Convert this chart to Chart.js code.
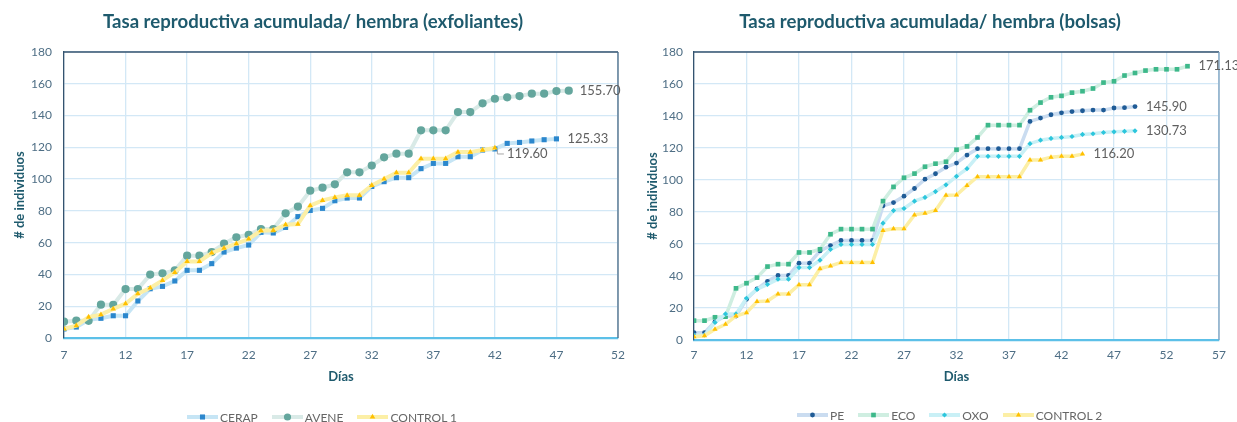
<!DOCTYPE html>
<html>
<head>
<meta charset="utf-8">
<script src="https://cdn.jsdelivr.net/npm/chart.js@4.4.1/dist/chart.umd.min.js"></script>
<style>
html, body { margin: 0; padding: 0; background: #fff; }
#wrap { position: relative; width: 1237px; height: 422px; overflow: hidden; font-family: Lato, "Open Sans", sans-serif; }
.box { position: absolute; top: 0; height: 422px; }
.legend { position: absolute; display: flex; align-items: center; font-size: 12px; color: #666; white-space: nowrap; height: 14px; }
.legend .item { display: flex; align-items: center; margin-right: 14px; }
.legend canvas { margin-right: 2px; }
</style>
</head>
<body>
<div id="wrap">
  <div class="box" style="left:0;width:630px"><canvas id="exf"></canvas></div>
  <div class="box" style="left:630px;width:607px"><canvas id="bol"></canvas></div>
  <div class="legend" id="legExf" style="left:187px;top:410px"></div>
  <div class="legend" id="legBol" style="left:797px;top:408px"></div>
</div>
<script>
// dias de cada grafico
const diasExf = [7, 8, 9, 10, 11, 12, 13, 14, 15, 16, 17, 18, 19, 20, 21, 22, 23, 24, 25, 26, 27,
  28, 29, 30, 31, 32, 33, 34, 35, 36, 37, 38, 39, 40, 41, 42, 43, 44, 45, 46, 47, 48];
const diasBol = [7, 8, 9, 10, 11, 12, 13, 14, 15, 16, 17, 18, 19, 20, 21, 22, 23, 24, 25, 26, 27,
  28, 29, 30, 31, 32, 33, 34, 35, 36, 37, 38, 39, 40, 41, 42, 43, 44, 45, 46, 47, 48, 49, 50,
  51, 52, 53, 54];

// exfoliantes
const cerap = [5.7, 6.9, 11.5, 12.4, 14.0, 14.0, 23.3, 31.0, 32.5, 35.9, 42.6, 42.6, 46.8, 54.1,
  56.6, 58.5, 66.5, 66.1, 69.6, 76.4, 80.3, 81.6, 86.4, 88.1, 88.1, 95.4, 98.4, 100.9, 100.9,
  106.6, 109.9, 109.9, 114.1, 114.1, 118.3, 119.0, 122.5, 123.1, 124.0, 124.8, 125.33];
const avene = [10.3, 10.9, 10.8, 21.0, 20.8, 30.8, 30.8, 39.9, 40.7, 42.6, 51.8, 51.8, 54.1, 59.4,
  63.4, 65.0, 68.6, 68.6, 78.5, 82.7, 92.7, 94.6, 96.7, 104.3, 104.3, 108.5, 113.7, 116.0, 116.0,
  130.7, 130.7, 130.7, 142.2, 142.2, 147.7, 150.6, 151.5, 152.3, 153.8, 153.8, 155.4, 155.7];
const control1 = [5.7, 7.8, 13.2, 14.7, 18.3, 21.6, 27.9, 31.5, 36.3, 41.3, 48.2, 48.2, 53.5, 56.6,
  59.4, 62.3, 67.5, 67.8, 71.3, 71.7, 83.3, 86.6, 88.5, 89.8, 89.8, 96.1, 100.1, 104.0, 104.0,
  112.9, 112.9, 112.9, 117.0, 117.0, 118.3, 119.6];

// bolsas
const pe = [4.6, 4.6, 11.5, 15.0, 15.0, 25.4, 31.9, 36.7, 40.3, 40.3, 48.0, 48.0, 55.7, 59.0, 62.2,
  62.2, 62.2, 62.2, 83.9, 85.9, 89.9, 94.7, 100.5, 103.9, 108.0, 110.6, 115.6, 119.6, 119.6, 119.6,
  119.6, 119.6, 136.6, 138.7, 140.8, 142.0, 142.8, 143.3, 143.7, 143.7, 145.0, 145.2, 145.9];
const eco = [12.1, 12.1, 14.2, 14.6, 32.3, 35.5, 39.0, 45.9, 47.4, 47.4, 54.7, 54.7, 56.7, 66.1,
  69.3, 69.3, 69.3, 69.3, 86.8, 95.7, 101.4, 104.0, 108.3, 110.2, 111.4, 118.9, 121.0, 126.6,
  134.3, 134.3, 134.3, 134.3, 143.6, 148.4, 151.7, 152.6, 154.6, 155.5, 157.2, 160.9, 161.7,
  165.3, 166.9, 168.4, 169.2, 169.2, 169.2, 171.13];
const oxo = [3.0, 3.0, 11.0, 16.3, 16.3, 26.1, 31.7, 34.8, 38.0, 38.0, 45.3, 45.3, 49.9, 56.7, 59.7,
  59.7, 59.7, 59.7, 73.0, 80.9, 82.2, 86.8, 89.1, 92.8, 97.0, 102.3, 107.1, 114.8, 114.8, 114.8,
  114.8, 114.8, 122.7, 124.9, 126.0, 126.6, 127.2, 128.5, 128.9, 129.7, 130.1, 130.4, 130.73];
const control2 = [2.1, 2.7, 6.7, 9.8, 15.0, 17.1, 24.0, 24.4, 28.8, 28.8, 34.6, 34.6, 44.6, 46.3,
  48.4, 48.4, 48.4, 48.4, 68.4, 69.5, 69.5, 78.2, 79.3, 80.9, 90.5, 90.6, 96.5, 102.1, 102.1,
  102.1, 102.1, 102.1, 112.5, 112.5, 114.3, 114.8, 114.8, 116.2];

const seriesExf = [
  { label: 'CERAP', data: cerap, line: '#c6e5f5', mark: '#2b87cd', style: 'rect', r: 3.6 },
  { label: 'AVENE', data: avene, line: '#d9eae7', mark: '#64a69d', style: 'circle', r: 4.1 },
  { label: 'CONTROL 1', data: control1, line: '#fcefa6', mark: '#ffc000', style: 'triangle', r: 3.2 }
];
const seriesBol = [
  { label: 'PE', data: pe, line: '#cadcf0', mark: '#1f5b96', style: 'circle', r: 2.4 },
  { label: 'ECO', data: eco, line: '#cfeee1', mark: '#3db88a', style: 'rect', r: 3.3 },
  { label: 'OXO', data: oxo, line: '#c9f0f6', mark: '#2cc6dc', style: 'rectRot', r: 2.6 },
  { label: 'CONTROL 2', data: control2, line: '#fcefa6', mark: '#ffc000', style: 'triangle', r: 3.0 }
];

Chart.defaults.font.family = 'Lato, "Open Sans", sans-serif';

const tealDark = '#1e5a6d';
const tickColor = '#4e6e85';
const gridColor = '#d3e8f6';

// marco superior y derecho del area de trazado
const frame = {
  id: 'frame',
  beforeDatasetsDraw(chart, args, opts) {
    const { left, top, right, bottom } = chart.chartArea;
    const ctx = chart.ctx;
    ctx.save();
    ctx.lineWidth = 1.3;
    ctx.strokeStyle = opts.top;
    ctx.beginPath();
    ctx.moveTo(left, top);
    ctx.lineTo(right, top);
    ctx.stroke();
    ctx.strokeStyle = opts.right;
    ctx.beginPath();
    ctx.moveTo(right, top);
    ctx.lineTo(right, bottom);
    ctx.stroke();
    ctx.restore();
  }
};

// etiqueta con el ultimo valor de cada serie
const endLabels = {
  id: 'endLabels',
  afterDatasetsDraw(chart, args, opts) {
    const ctx = chart.ctx;
    ctx.save();
    ctx.font = '13px Lato, "Open Sans", sans-serif';
    ctx.fillStyle = '#5f5f5f';
    ctx.textBaseline = 'middle';
    chart.data.datasets.forEach((ds, i) => {
      const meta = chart.getDatasetMeta(i);
      const pt = meta.data[meta.data.length - 1];
      const v = ds.data[ds.data.length - 1].y;
      const sh = (opts.shift && opts.shift[i]) || [11, 0];
      const tx = pt.x + sh[0], ty = pt.y + sh[1];
      if (sh[1] !== 0) {
        ctx.strokeStyle = '#a6a6a6';
        ctx.lineWidth = 1;
        ctx.beginPath();
        ctx.moveTo(pt.x + 2.5, pt.y + 2);
        ctx.lineTo(pt.x + 2.5, ty);
        ctx.lineTo(tx - 3, ty);
        ctx.stroke();
      }
      ctx.fillText(v.toFixed(2), tx, ty);
    });
    ctx.restore();
  }
};

const toPoints = (dias, vals) => vals.map((v, i) => ({ x: dias[i], y: v }));

function makeChart(id, dias, series, cfg) {
  const n = series.length;
  return new Chart(document.getElementById(id), {
    type: 'line',
    data: {
      datasets: series.map((s, i) => ({
        label: s.label,
        data: toPoints(dias, s.data),
        borderColor: s.line,
        borderWidth: cfg.lineW,
        pointStyle: s.style,
        pointRadius: s.r,
        pointBackgroundColor: s.mark,
        pointBorderColor: s.mark,
        pointBorderWidth: 0,
        tension: 0,
        order: n - i
      }))
    },
    options: {
      responsive: true,
      maintainAspectRatio: false,
      animation: false,
      layout: { padding: { left: cfg.padL, right: cfg.padR, top: 0, bottom: cfg.padB } },
      scales: {
        x: {
          type: 'linear',
          min: 7,
          max: cfg.xMax,
          ticks: { stepSize: 5, color: tickColor, font: { size: 12 }, padding: 4, maxRotation: 0 },
          grid: { color: gridColor, lineWidth: 1.3, drawTicks: true, tickLength: cfg.xTickLen, tickColor: 'rgba(0,0,0,0)' },
          border: { display: true, color: '#5cc0e8', width: 2.2 },
          title: { display: true, text: 'Días', color: tealDark, font: { size: 13, weight: 'bold' } },
          afterFit: (s) => { s.height = cfg.xH; }
        },
        y: {
          min: 0,
          max: 180,
          ticks: { stepSize: 20, color: tickColor, font: { size: 12 }, padding: cfg.yTickPad },
          grid: { color: gridColor, lineWidth: 1.3, drawTicks: false },
          border: { display: true, color: '#34536f', width: 1.3 },
          title: { display: true, text: '# de individuos', color: tealDark, font: { size: 13, weight: 'bold' } },
          afterFit: (s) => { s.width = 64 - cfg.padL; }
        }
      },
      plugins: {
        legend: { display: false },
        tooltip: { enabled: false },
        title: {
          display: true,
          text: cfg.title,
          color: tealDark,
          font: { size: 18.6, weight: 'bold' },
          padding: { top: 10.6, bottom: 19.1 }
        },
        frame: { top: '#34536f', right: cfg.rightBorder },
        endLabels: { shift: cfg.shift }
      }
    },
    plugins: [frame, endLabels]
  });
}

makeChart('exf', diasExf, seriesExf, {
  title: 'Tasa reproductiva acumulada/ hembra (exfoliantes)',
  xMax: 52, padL: 8, padR: 12, padB: 33, xH: 51, xTickLen: 6, yTickPad: 12,
  lineW: 4, rightBorder: '#4a6a86', shift: { 2: [12, 6] }
});
makeChart('bol', diasBol, seriesBol, {
  title: 'Tasa reproductiva acumulada/ hembra (bolsas)',
  xMax: 57, padL: 11, padR: 18, padB: 33, xH: 49, xTickLen: 4, yTickPad: 11,
  lineW: 3.5, rightBorder: '#7aa0bf', shift: {}
});

// leyendas
function drawMark(c, style, r, color, x, y) {
  c.fillStyle = color;
  c.beginPath();
  if (style === 'circle') {
    c.arc(x, y, r, 0, Math.PI * 2);
  } else if (style === 'rect') {
    const s = r * Math.SQRT1_2;
    c.rect(x - s, y - s, 2 * s, 2 * s);
  } else if (style === 'triangle') {
    c.moveTo(x, y - r);
    c.lineTo(x + 0.866 * r, y + 0.5 * r);
    c.lineTo(x - 0.866 * r, y + 0.5 * r);
  } else {
    c.moveTo(x, y - r);
    c.lineTo(x + r, y);
    c.lineTo(x, y + r);
    c.lineTo(x - r, y);
  }
  c.closePath();
  c.fill();
}

function buildLegend(id, series) {
  const box = document.getElementById(id);
  series.forEach(s => {
    const item = document.createElement('div');
    item.className = 'item';
    const cv = document.createElement('canvas');
    cv.width = 31; cv.height = 12;
    const c = cv.getContext('2d');
    c.fillStyle = s.line;
    c.fillRect(0, 4, 31, 4);
    drawMark(c, s.style, Math.min(s.r, 3.6), s.mark, 15.5, 6);
    const t = document.createElement('span');
    t.textContent = s.label;
    item.appendChild(cv);
    item.appendChild(t);
    box.appendChild(item);
  });
}
buildLegend('legExf', seriesExf);
buildLegend('legBol', seriesBol);
</script>
</body>
</html>
